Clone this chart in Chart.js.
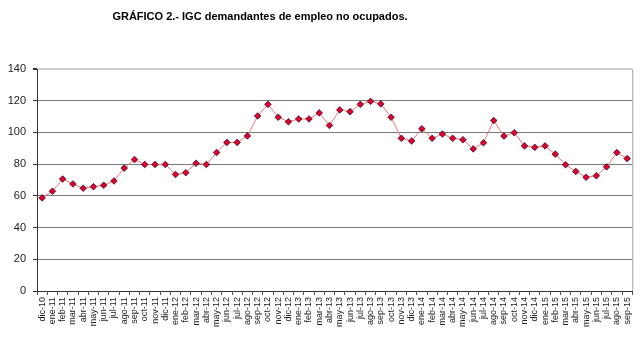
<!DOCTYPE html>
<html>
<head>
<meta charset="utf-8">
<script src="https://cdn.jsdelivr.net/npm/chart.js@4.4.1/dist/chart.umd.min.js"></script>
<style>
  html, body { margin: 0; padding: 0; background: #fff; }
  #wrap { width: 640px; height: 342px; }
</style>
</head>
<body>
<div id="wrap"><canvas id="grafico"></canvas></div>
<script>
// meses de dic-10 a sep-15
const meses = ['dic-10',
  'ene-11', 'feb-11', 'mar-11', 'abr-11', 'may-11', 'jun-11', 'jul-11', 'ago-11', 'sep-11', 'oct-11', 'nov-11', 'dic-11',
  'ene-12', 'feb-12', 'mar-12', 'abr-12', 'may-12', 'jun-12', 'jul-12', 'ago-12', 'sep-12', 'oct-12', 'nov-12', 'dic-12',
  'ene-13', 'feb-13', 'mar-13', 'abr-13', 'may-13', 'jun-13', 'jul-13', 'ago-13', 'sep-13', 'oct-13', 'nov-13', 'dic-13',
  'ene-14', 'feb-14', 'mar-14', 'abr-14', 'may-14', 'jun-14', 'jul-14', 'ago-14', 'sep-14', 'oct-14', 'nov-14', 'dic-14',
  'ene-15', 'feb-15', 'mar-15', 'abr-15', 'may-15', 'jun-15', 'jul-15', 'ago-15', 'sep-15'];

// IGC demandantes de empleo no ocupados
const igc = [58.7,
  62.9, 70.6, 67.5, 64.8, 65.8, 66.7, 69.4, 77.5, 82.9, 79.8, 79.8, 79.8,
  73.5, 74.6, 80.6, 79.8, 87.3, 93.7, 93.7, 97.8, 110.4, 117.7, 109.6, 106.7,
  108.5, 108.5, 112.3, 104.4, 114.2, 113.1, 117.7, 119.6, 118.0, 109.6, 96.3, 94.6,
  102.3, 96.3, 99.0, 96.3, 95.4, 89.6, 93.5, 107.5, 97.7, 99.8, 91.5, 90.6,
  91.5, 86.3, 79.6, 75.4, 71.7, 72.7, 78.3, 87.3, 83.5];

const ejeY = { min: 0, max: 140, paso: 20 };

const FUENTE = '"Liberation Sans", Arial, sans-serif';

// titulo, un poco a la izquierda del centro
const titulo = {
  id: 'titulo',
  afterDraw(chart) {
    const ctx = chart.ctx;
    const parte1 = 'GRÁFICO 2.- IGC ';
    const parte2 = 'demandantes de empleo no ocupados.';
    ctx.save();
    ctx.fillStyle = '#000';
    ctx.textBaseline = 'alphabetic';
    ctx.font = 'bold 11px ' + FUENTE;
    const w1 = ctx.measureText(parte1).width;
    const w2 = ctx.measureText(parte2).width;
    const x = 260 - (w1 + w2) / 2;
    ctx.fillText(parte1, x, 20);
    ctx.fillText(parte2, x + w1, 20);
    ctx.restore();
  }
};

// borde derecho gris del area del grafico
const bordeDerecho = {
  id: 'bordeDerecho',
  beforeDatasetsDraw(chart) {
    const { ctx, chartArea } = chart;
    ctx.save();
    ctx.strokeStyle = '#a0a0a0';
    ctx.lineWidth = 1;
    ctx.beginPath();
    ctx.moveTo(chartArea.right + 0.5, chartArea.top);
    ctx.lineTo(chartArea.right + 0.5, chartArea.bottom);
    ctx.stroke();
    ctx.restore();
  }
};

new Chart(document.getElementById('grafico'), {
  type: 'line',
  data: {
    labels: meses,
    datasets: [{
      label: 'IGC',
      data: igc,
      borderColor: '#e97878',
      borderWidth: 1,
      pointStyle: 'rectRot',
      pointRadius: 3.3,
      pointBackgroundColor: '#e0002a',
      pointBorderColor: '#3a1030',
      pointBorderWidth: 0.8,
      tension: 0
    }]
  },
  options: {
    responsive: true,
    maintainAspectRatio: false,
    animation: false,
    layout: { padding: { top: 69, right: 7, left: 0, bottom: 0 } },
    plugins: {
      legend: { display: false },
      title: { display: false },
      tooltip: { enabled: false }
    },
    scales: {
      x: {
        offset: true,
        grid: {
          offset: true,
          drawOnChartArea: false,
          drawTicks: true,
          tickLength: 4,
          color: '#555'
        },
        border: { color: '#333', width: 1 },
        ticks: {
          autoSkip: false,
          minRotation: 90,
          maxRotation: 90,
          padding: 2,
          color: '#222',
          font: { family: FUENTE, size: 9 }
        },
        afterFit(scale) { scale.height = 51; }
      },
      y: {
        min: ejeY.min,
        max: ejeY.max,
        grid: {
          color: (c) => c.tick && c.tick.value === ejeY.max ? '#cfcfcf' : '#7a7a7a',
          lineWidth: (c) => c.tick && c.tick.value === ejeY.max ? 2 : 1,
          tickColor: '#333',
          tickLength: 4
        },
        border: { color: '#333', width: 1 },
        ticks: {
          stepSize: ejeY.paso,
          padding: 7,
          color: '#222',
          font: { family: FUENTE, size: 11 }
        },
        afterFit(scale) { scale.width = 37; }
      }
    }
  },
  plugins: [titulo, bordeDerecho]
});
</script>
</body>
</html>
